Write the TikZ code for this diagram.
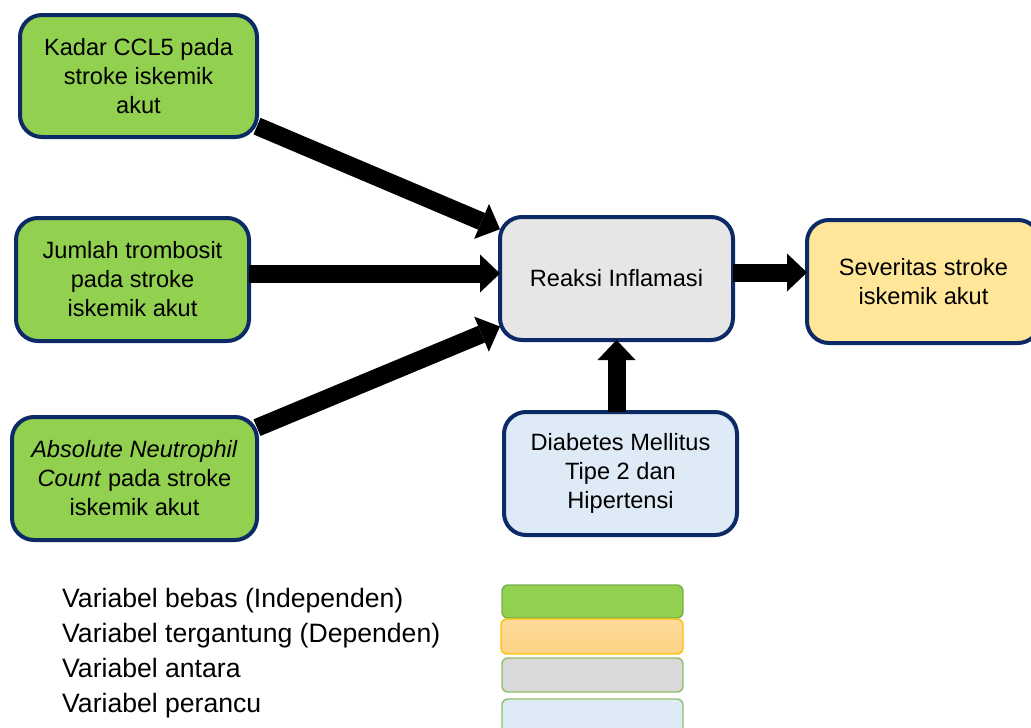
\documentclass[tikz,border=0pt]{standalone}
\usepackage{fontspec}
\setmainfont{Liberation Sans}
\usetikzlibrary{arrows.meta}
\definecolor{navy}{HTML}{0C2A66}
\definecolor{vgreen}{HTML}{92D050}
\definecolor{vgreenbd}{HTML}{76B04C}
\definecolor{vyellow}{HTML}{FFE699}
\definecolor{vgray}{HTML}{E7E6E6}
\definecolor{vblue}{HTML}{DEEAF6}
\definecolor{lgorangeT}{HTML}{FEDC9C}
\definecolor{lgorangeB}{HTML}{FDD385}
\definecolor{lgorangebd}{HTML}{FFC000}
\definecolor{lggray}{HTML}{D9D9D9}
\definecolor{lgbd}{HTML}{8CC068}
\tikzset{
  varbox/.style={draw=navy, line width=4pt, rounded corners=22pt, outer sep=0pt,
    inner sep=2pt, align=center, text=black,
    font=\fontsize{23.6}{29}\selectfont},
  blk/.style={line width=18pt, draw=black,
    -{Triangle[length=20pt, width=38pt, line width=0pt]}},
  legtext/.style={anchor=base west, inner sep=0pt, font=\fontsize{26.6}{30}\selectfont},
  legbox/.style={line width=1.4pt, rounded corners=6pt, minimum width=181pt, anchor=north west, inner sep=0pt, outer sep=0pt},
}
\begin{document}
\begin{tikzpicture}[x=1pt,y=1pt]
\useasboundingbox (0,0) rectangle (1031,-728);
% variable boxes
\node[varbox, fill=vgreen, minimum width=237pt, minimum height=122pt] (ccl) at (138.5,-76)
  {Kadar CCL5 pada\\stroke iskemik\\akut};
\node[varbox, fill=vgreen, minimum width=233pt, minimum height=123pt] (trom) at (132.5,-279.5)
  {Jumlah trombosit\\pada stroke\\iskemik akut};
\node[varbox, fill=vgreen, minimum width=245pt, minimum height=123pt] (anc) at (134.5,-478.5)
  {\textit{Absolute Neutrophil}\\\textit{Count} pada stroke\\iskemik akut};
\node[varbox, fill=vgray, minimum width=233pt, minimum height=123pt] (rk) at (616.5,-278.5)
  {Reaksi Inflamasi};
\node[varbox, fill=vyellow, minimum width=233pt, minimum height=123pt] (sev) at (923.5,-281.5)
  {Severitas stroke\\iskemik akut};
\node[varbox, fill=vblue, minimum width=233pt, minimum height=123pt] (dm) at (620.5,-473.5)
  {Diabetes Mellitus\\Tipe 2 dan\\Hipertensi};
% arrows
\draw[blk] (ccl) -- (rk);
\draw[blk] ([yshift=6pt]trom.east) -- ([yshift=5pt]rk.west);
\draw[blk] (anc) -- (rk);
\draw[blk] ([yshift=6pt]rk.east) -- ([yshift=9pt]sev.west);
\draw[blk] (rk.south |- dm.north) -- (rk.south);
% legend
\node[legtext] (l1) at (62,-607) {Variabel bebas (Independen)};
\node[legtext] (l2) at (62,-642) {Variabel tergantung (Dependen)};
\node[legtext] (l3) at (62,-677) {Variabel antara};
\node[legtext] (l4) at (62,-712) {Variabel perancu};
\node[legbox, draw=vgreenbd, fill=vgreen, minimum height=33pt] (g1) at (502,-585) {};
\node[legbox, draw=lgorangebd, top color=lgorangeT, bottom color=lgorangeB, minimum height=35pt, minimum width=182pt] (g2) at (501,-619) {};
\node[legbox, draw=lgbd, fill=lggray, minimum height=34pt] (g3) at (502,-658) {};
\node[legbox, draw=lgbd, fill=vblue, minimum height=40pt] (g4) at (502,-699) {};
\end{tikzpicture}
\end{document}
